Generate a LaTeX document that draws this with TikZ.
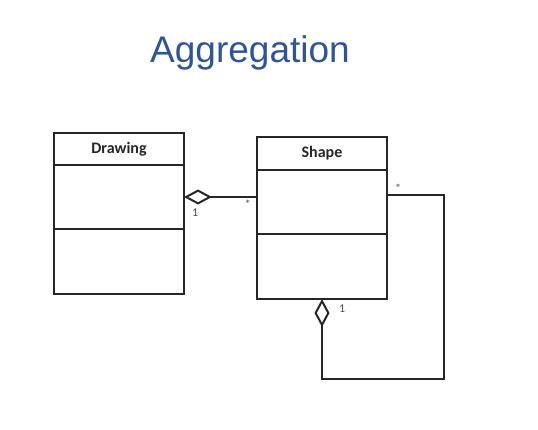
\documentclass[tikz,border=0pt]{standalone}
\usepackage{fontspec}
\setmainfont{Carlito}
\newfontfamily\titlefont{Liberation Sans}
\usepackage{tikz}
\usetikzlibrary{arrows.meta,positioning}
\definecolor{titleblue}{RGB}{47,85,151}
\definecolor{umlline}{RGB}{38,38,38}
\tikzstyle{classhead}=[rectangle, draw=umlline, line width=2pt, outer sep=0pt, inner sep=0pt, minimum width=130pt, font=\fontsize{16}{18}\selectfont\bfseries, text=umlline]
\tikzstyle{classpart}=[rectangle, draw=umlline, line width=2pt, outer sep=0pt, inner sep=0pt, minimum width=130pt]
\tikzstyle{agg}=[draw=umlline, line width=2pt, -{Diamond[open,length=28pt,width=15pt,line width=2pt]}]
\tikzstyle{mult}=[inner sep=0pt, font=\fontsize{12}{13}\selectfont, text=black!70]

\begin{document}
\begin{tikzpicture}[x=1pt,y=-1pt]
			\useasboundingbox[fill=white] (0,0) rectangle (538,430);
			\node[text=titleblue,font=\titlefont\fontsize{37}{40}\selectfont] (title) at (250,53) {Aggregation};

			% Drawing class
			\node[classhead,minimum height=32pt] (drawhead) at (119,149) {Drawing};
			\node[classpart,minimum height=64pt,below=0pt of drawhead] (drawattr) {};
			\node[classpart,minimum height=65pt,below=0pt of drawattr] (drawops) {};

			% Shape class
			\node[classhead,minimum height=33pt] (shapehead) at (322,153.5) {Shape};
			\node[classpart,minimum height=64pt,below=0pt of shapehead] (shapeattr) {};
			\node[classpart,minimum height=65pt,below=0pt of shapeattr] (shapeops) {};

			% Shape -> Drawing
			\draw[agg] (shapeattr.west |- drawattr.east) -- (drawattr.east);
			\node[mult,below right=12pt and 8pt of drawattr.east] (m1) {1};
			\node[mult,below left=3pt and 6pt of shapeattr.west |- drawattr.east] (m2) {*};

			% Shape -> Shape
			\coordinate (loopcorner) at (444,379);
			\draw[agg] ([yshift=7pt]shapeattr.east) -| (loopcorner) -| (shapeops.south);
			\node[mult,below right=6pt and 17pt of shapeops.south] (m3) {1};
			\node[mult,above right=9pt and 8pt of shapeattr.east] (m4) {*};
		\end{tikzpicture}
\end{document}
